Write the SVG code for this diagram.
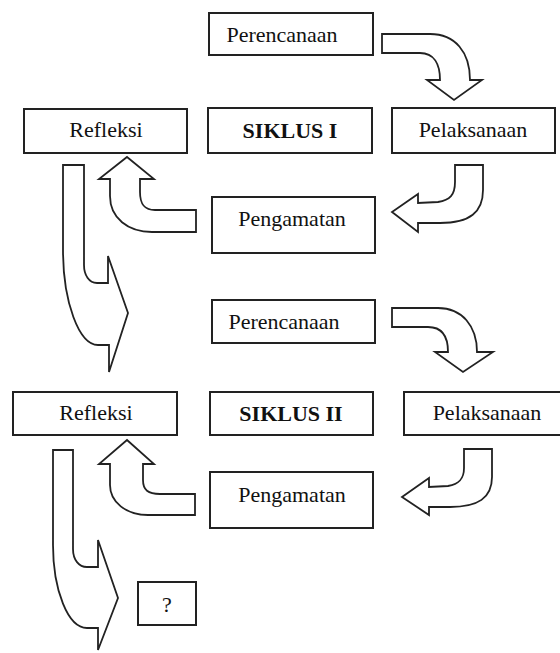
<svg xmlns="http://www.w3.org/2000/svg" width="560" height="653" viewBox="0 0 560 653">
<style>
.box{fill:#fff;stroke:#222;stroke-width:2}
.arr{fill:#fff;stroke:#222;stroke-width:1.8;stroke-linejoin:miter}
.t{font-family:"Liberation Serif","Times New Roman",serif;font-size:22px;fill:#111;text-anchor:middle}
.b{font-weight:bold}
</style>
<rect width="560" height="653" fill="#fff"/>
<g id="connectors">
<path class="arr" d="M382,34 L430,34 C455,34 470,52 470,80 L482,80 L454,100 L427,80 L440,80 C440,64 434,53 420,53 L382,53 Z"/>
<path class="arr" d="M455,165 L483,165 L483,190 C483,212 470,223 440,223 L418,223 L418,232 L392,212 L418,194 L418,203 L438,202 C450,200 455,195 455,182 Z"/>
<path class="arr" d="M127,157 L154,179 L140,179 L140,192 C140,204 144,210 155,210 L196,210 L196,232 L152,232 C128,232 110,218 110,196 L110,179 L99,179 Z"/>
<path class="arr" d="M63,165 L84,165 L84,265 C84,275 89,283 97,283 L108,283 L108,256 L128,313 L109,372 L109,345 L98,345 C79,345 63,302 63,250 Z"/>
<path class="arr" d="M392,308 L438,308 C462,308 477,326 477,352 L493,352 L463,372 L435,352 L448,352 C448,336 442,327 428,327 L392,327 Z"/>
<path class="arr" d="M464,449 L492,449 L492,477 C492,498 478,507 450,507 L429,507 L429,515 L402,497 L429,478 L429,487 L448,486 C460,484 464,478 464,468 Z"/>
<path class="arr" d="M127,440 L154,464 L143,464 L143,480 C143,490 148,494 160,494 L195,494 L195,515 L148,515 C126,515 110,502 110,485 L110,464 L99,464 Z"/>
<path class="arr" d="M53,450 L73,450 L73,549 C73,560 79,567 87,567 L98,567 L98,540 L118,598 L98,650 L98,628 L87,628 C68,628 53,590 53,545 Z"/>
</g>
<g id="perencanaan1"><rect class="box" x="209" y="13" width="164" height="42"/><text class="t" x="282" y="42">Perencanaan</text></g>
<g id="refleksi1"><rect class="box" x="24" y="109" width="163" height="44"/><text class="t" x="106" y="137">Refleksi</text></g>
<g id="siklus1"><rect class="box" x="208" y="108" width="164" height="45"/><text class="t b" x="290" y="138">SIKLUS I</text></g>
<g id="pelaksanaan1"><rect class="box" x="392" y="108" width="163" height="45"/><text class="t" x="473" y="137">Pelaksanaan</text></g>
<g id="pengamatan1"><rect class="box" x="212" y="197" width="163" height="56"/><text class="t" x="292" y="226">Pengamatan</text></g>
<g id="perencanaan2"><rect class="box" x="212" y="300" width="163" height="43"/><text class="t" x="284" y="329">Perencanaan</text></g>
<g id="refleksi2"><rect class="box" x="13" y="392" width="164" height="43"/><text class="t" x="96" y="420">Refleksi</text></g>
<g id="siklus2"><rect class="box" x="210" y="392" width="163" height="43"/><text class="t b" x="291" y="421">SIKLUS II</text></g>
<g id="pelaksanaan2"><rect class="box" x="404" y="392" width="163" height="43"/><text class="t" x="487" y="420">Pelaksanaan</text></g>
<g id="pengamatan2"><rect class="box" x="210" y="472" width="163" height="56"/><text class="t" x="292" y="502">Pengamatan</text></g>
<g id="next"><rect class="box" x="138" y="582" width="58" height="43"/><text class="t" x="167" y="612">?</text></g>
</svg>
